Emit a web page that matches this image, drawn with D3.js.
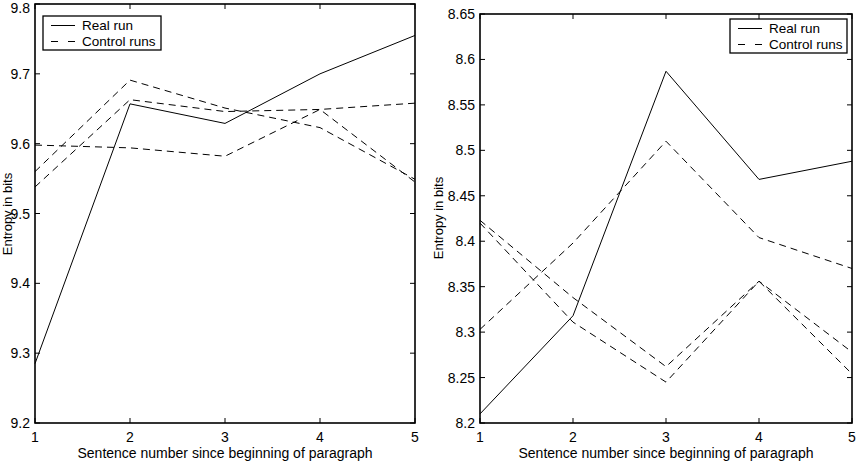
<!DOCTYPE html>
<html>
<head>
<meta charset="utf-8">
<script src="https://cdn.jsdelivr.net/npm/d3@7"></script>
<style>
  body { margin: 0; background: #fff; }
  text { font-family: "Liberation Sans", Arial, sans-serif; fill: #000; }
</style>
</head>
<body>
<div id="chart"></div>
<script>
// sentence positions
var sentences = [1, 2, 3, 4, 5];

// left panel
var leftReal = [9.285, 9.657, 9.629, 9.700, 9.755];
var leftControlA = [9.560, 9.691, 9.651, 9.623, 9.549];
var leftControlB = [9.538, 9.663, 9.646, 9.649, 9.658];
var leftControlC = [9.598, 9.594, 9.582, 9.649, 9.545];
var leftTicks = [9.2, 9.3, 9.4, 9.5, 9.6, 9.7, 9.8];

// right panel
var rightReal = [8.210, 8.318, 8.587, 8.468, 8.488];
var rightControlA = [8.303, 8.398, 8.510, 8.404, 8.370];
var rightControlB = [8.423, 8.338, 8.262, 8.356, 8.278];
var rightControlC = [8.420, 8.311, 8.245, 8.356, 8.254];
var rightTicks = [8.2, 8.25, 8.3, 8.35, 8.4, 8.45, 8.5, 8.55, 8.6, 8.65];

var svg = d3.select("#chart").append("svg")
  .attr("width", 856).attr("height", 464);

function panel(opt) {
  var x = d3.scaleLinear().domain([1, 5]).range([opt.left, opt.right]);
  var y = d3.scaleLinear().domain(opt.domain).range([opt.bottom, opt.top]);
  var g = svg.append("g");

  // tick marks pointing inward, on all four sides
  var tl = 5;
  opt.ticks.forEach(function (t) {
    g.append("line").attr("x1", opt.left).attr("x2", opt.left + tl)
      .attr("y1", y(t)).attr("y2", y(t)).attr("stroke", "#000");
    g.append("line").attr("x1", opt.right).attr("x2", opt.right - tl)
      .attr("y1", y(t)).attr("y2", y(t)).attr("stroke", "#000");
    g.append("text").attr("x", opt.left - 5).attr("y", Math.max(y(t) + 5, 13))
      .attr("text-anchor", "end").style("font-size", "14px")
      .text(opt.fmt(t));
  });
  sentences.forEach(function (s) {
    g.append("line").attr("x1", x(s)).attr("x2", x(s))
      .attr("y1", opt.bottom).attr("y2", opt.bottom - tl).attr("stroke", "#000");
    g.append("line").attr("x1", x(s)).attr("x2", x(s))
      .attr("y1", opt.top).attr("y2", opt.top + tl).attr("stroke", "#000");
    g.append("text").attr("x", x(s)).attr("y", opt.bottom + 19)
      .attr("text-anchor", "middle").style("font-size", "14px").text(s);
  });

  var line = d3.line()
    .x(function (d, i) { return x(sentences[i]); })
    .y(function (d) { return y(d); });

  opt.controls.forEach(function (c) {
    g.append("path").datum(c).attr("d", line)
      .attr("fill", "none").attr("stroke", "#000").attr("stroke-width", 1)
      .attr("stroke-dasharray", "7,5");
  });
  g.append("path").datum(opt.real).attr("d", line)
    .attr("fill", "none").attr("stroke", "#000").attr("stroke-width", 1);

  // frame
  g.append("rect").attr("x", opt.left).attr("y", opt.top)
    .attr("width", opt.right - opt.left).attr("height", opt.bottom - opt.top)
    .attr("fill", "none").attr("stroke", "#000").attr("stroke-width", 1.6);

  // axis titles
  g.append("text").attr("x", (opt.left + opt.right) / 2).attr("y", opt.bottom + 35)
    .attr("text-anchor", "middle").style("font-size", "14px")
    .text("Sentence number since beginning of paragraph");
  g.append("text")
    .attr("transform", "translate(" + opt.ylabX + "," + opt.ylabY + ") rotate(-90)")
    .attr("text-anchor", "middle").style("font-size", "13px")
    .text("Entropy in bits");

  // legend
  var L = opt.legend;
  g.append("rect").attr("x", L.x).attr("y", L.y).attr("width", L.w).attr("height", 34)
    .attr("fill", "#fff").attr("stroke", "#000").attr("stroke-width", 1.3);
  g.append("line").attr("x1", L.x + 8).attr("x2", L.x + 32)
    .attr("y1", L.y + 9.5).attr("y2", L.y + 9.5).attr("stroke", "#000");
  g.append("text").attr("x", L.x + 39).attr("y", L.y + 14)
    .style("font-size", "13.5px").text("Real run");
  g.append("line").attr("x1", L.x + 8).attr("x2", L.x + 32)
    .attr("y1", L.y + 25.5).attr("y2", L.y + 25.5).attr("stroke", "#000")
    .attr("stroke-dasharray", "7,10");
  g.append("text").attr("x", L.x + 39).attr("y", L.y + 30)
    .style("font-size", "13.5px").text("Control runs");
}

panel({
  left: 35, right: 415, top: 4, bottom: 423,
  domain: [9.2, 9.8], ticks: leftTicks, fmt: d3.format(".1f"),
  real: leftReal, controls: [leftControlA, leftControlB, leftControlC],
  ylabX: 12, ylabY: 214,
  legend: { x: 43, y: 16, w: 118 }
});

panel({
  left: 480, right: 852, top: 14, bottom: 423,
  domain: [8.2, 8.65], ticks: rightTicks, fmt: function (t) { return String(+t.toFixed(2)); },
  real: rightReal, controls: [rightControlA, rightControlB, rightControlC],
  ylabX: 443, ylabY: 218,
  legend: { x: 730, y: 19, w: 117 }
});
</script>
</body>
</html>
